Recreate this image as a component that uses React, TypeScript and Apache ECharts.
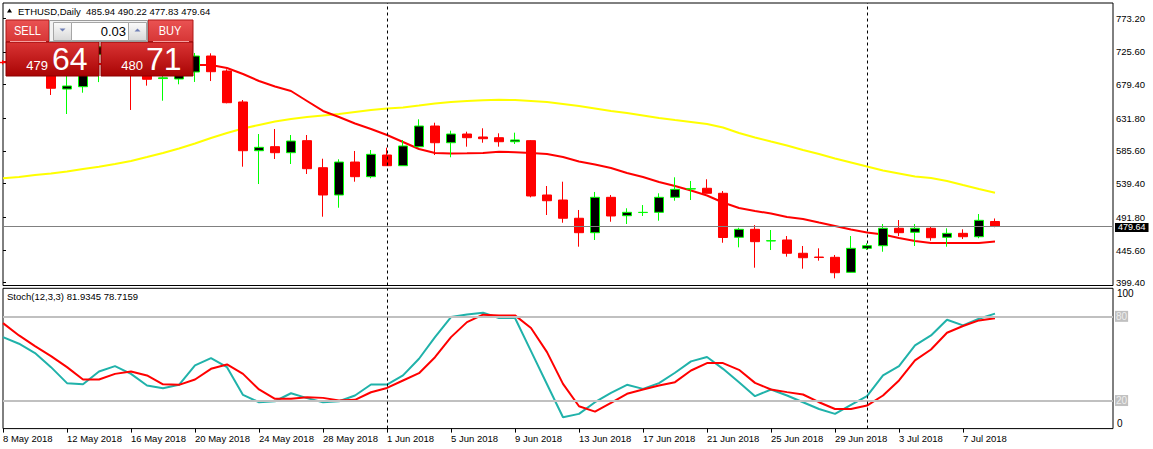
import React, { useEffect, useRef } from 'react';
import * as echarts from 'echarts';

const FONT = "'Liberation Sans', Arial, sans-serif";

const symbolTitle = 'ETHUSD,Daily';
const tickIndex = [0, 4, 8, 12, 16, 20, 24, 28, 32, 36, 40, 44, 48, 52, 56, 60];
const tickLabels = ['8 May 2018', '12 May 2018', '16 May 2018', '20 May 2018', '24 May 2018', '28 May 2018', '1 Jun 2018', '5 Jun 2018', '9 Jun 2018', '13 Jun 2018', '17 Jun 2018', '21 Jun 2018', '25 Jun 2018', '29 Jun 2018', '3 Jul 2018', '7 Jul 2018'];
const monthStarts = [24, 54];
const priceTicks = [399.4, 445.6, 491.8, 539.4, 585.6, 631.8, 679.4, 725.6, 773.2];
const stochLevels = [80, 20];

const opens = [711.0, 711.0, 748.0, 728.0, 673.2, 676.5, 722.0, 733.0, 712.0, 706.0, 688.0, 687.4, 697.3, 719.9, 698.7, 654.9, 586.0, 591.7, 583.2, 600.2, 562.0, 523.4, 570.0, 549.3, 579.9, 564.8, 591.7, 620.9, 597.3, 609.6, 605.4, 604.4, 598.7, 600.2, 523.4, 516.3, 490.5, 470.1, 520.1, 494.1, 498.6, 498.9, 520.1, 531.9, 532.9, 525.8, 463.6, 474.9, 458.4, 459.8, 441.0, 435.7, 435.3, 414.1, 448.0, 451.7, 476.3, 470.7, 476.3, 463.6, 469.2, 464.4, 485.94];
const highs = [714.0, 752.0, 752.0, 731.0, 700.0, 735.0, 745.0, 740.0, 716.0, 710.0, 698.0, 704.0, 724.2, 723.7, 701.1, 657.7, 609.6, 616.7, 608.2, 608.2, 574.7, 573.9, 585.6, 587.0, 590.3, 601.1, 630.4, 625.6, 614.3, 612.9, 617.7, 610.6, 611.5, 601.1, 536.1, 542.2, 502.2, 527.7, 523.4, 504.6, 509.2, 525.8, 548.4, 543.2, 545.6, 529.0, 477.1, 480.9, 473.9, 465.4, 451.3, 448.0, 438.6, 465.4, 455.1, 482.4, 488.0, 482.4, 479.5, 476.3, 474.9, 496.5, 490.22];
const lows = [708.0, 705.0, 722.0, 664.8, 637.9, 668.0, 683.0, 704.0, 643.6, 678.0, 656.7, 679.9, 683.2, 684.5, 653.0, 563.4, 538.9, 574.3, 567.2, 553.1, 492.7, 505.4, 542.2, 547.0, 564.4, 564.5, 591.3, 579.9, 576.7, 591.7, 597.3, 591.7, 595.5, 520.1, 495.1, 484.2, 450.3, 459.8, 485.6, 482.4, 493.7, 487.0, 515.3, 516.3, 525.5, 455.9, 449.4, 420.6, 445.6, 436.2, 419.2, 430.5, 405.6, 413.8, 445.6, 443.2, 465.4, 451.3, 458.8, 450.3, 461.2, 462.2, 477.83];
const closes = [710.4, 748.0, 728.0, 674.3, 677.5, 725.0, 733.0, 708.0, 706.0, 687.0, 689.0, 697.0, 719.9, 697.7, 653.9, 586.0, 590.8, 583.2, 599.7, 560.6, 523.4, 570.0, 549.3, 580.9, 564.8, 592.7, 620.9, 597.3, 609.6, 604.4, 603.0, 598.7, 601.2, 522.0, 515.3, 490.5, 470.1, 520.1, 493.7, 498.9, 498.9, 520.1, 531.4, 532.3, 525.8, 463.3, 474.9, 457.4, 458.8, 441.0, 434.7, 435.0, 413.5, 448.0, 451.7, 476.3, 470.1, 476.3, 463.0, 469.2, 464.4, 487.6, 479.64];

const maFast = [711.4, 711.4, 710.7, 710.0, 710.0, 709.3, 708.6, 708.6, 707.9, 707.9, 707.2, 707.2, 707.2, 707.2, 703.0, 694.5, 684.6, 676.8, 670.4, 656.3, 642.2, 633.7, 624.5, 616.7, 608.2, 598.3, 588.4, 582.8, 582.1, 582.3, 582.8, 584.6, 583.9, 582.8, 581.4, 577.1, 570.8, 566.5, 561.6, 554.5, 548.8, 541.8, 536.1, 529.8, 522.7, 512.8, 505.0, 500.8, 497.2, 492.3, 489.5, 484.5, 479.6, 474.5, 470.4, 467.5, 462.6, 458.4, 455.5, 455.5, 455.5, 455.5, 457.6];
const maSlow = [547.0, 548.8, 551.7, 553.8, 556.6, 560.2, 563.4, 567.2, 571.5, 577.1, 582.8, 589.2, 596.2, 604.0, 611.1, 617.4, 622.4, 627.3, 630.9, 633.7, 635.8, 637.9, 640.8, 643.6, 645.7, 647.1, 649.9, 652.8, 654.9, 656.3, 657.3, 658.1, 657.7, 656.3, 654.9, 652.1, 649.2, 645.7, 642.2, 639.3, 635.8, 632.3, 629.4, 626.6, 623.8, 618.8, 611.1, 604.7, 599.0, 593.4, 587.0, 581.4, 575.0, 569.4, 563.7, 558.0, 553.8, 549.6, 547.4, 543.2, 537.5, 531.9, 526.7];

const stochMain = [65.2, 60.5, 53.8, 43.8, 32.4, 31.6, 40.7, 44.5, 39.0, 30.7, 28.8, 31.2, 45.0, 50.2, 43.8, 24.0, 18.8, 19.5, 25.2, 21.7, 18.8, 19.5, 23.6, 31.4, 31.4, 37.9, 49.8, 65.2, 79.5, 81.4, 82.6, 78.8, 78.8, 55.2, 31.6, 8.1, 10.5, 18.8, 25.5, 31.2, 28.3, 32.4, 39.8, 47.9, 51.0, 42.6, 33.1, 23.1, 27.9, 23.6, 18.8, 14.0, 10.5, 16.9, 23.1, 37.9, 44.5, 59.3, 66.4, 77.6, 73.6, 78.3, 81.9345];
const stochSignal = [75.2, 66.4, 58.8, 51.7, 43.8, 35.0, 35.0, 39.0, 40.7, 37.9, 31.6, 31.2, 35.0, 42.6, 45.7, 39.0, 27.9, 21.2, 21.2, 22.4, 21.9, 20.0, 20.5, 25.9, 29.0, 34.3, 39.5, 50.9, 65.2, 75.9, 81.2, 80.7, 80.7, 71.7, 54.5, 31.9, 15.9, 12.1, 18.3, 24.8, 27.9, 30.7, 33.1, 41.4, 46.7, 46.7, 41.9, 32.6, 27.9, 26.0, 24.3, 18.8, 14.0, 14.0, 16.4, 23.6, 34.3, 48.6, 56.4, 68.3, 73.1, 77.1, 78.7159];

const lotSize = '0.03';
const bidPrice = ['479', '64'];
const askPrice = ['480', '71'];

const X_MAX = 69.375;

function grad(c1: string, c2: string) {
  return { type: 'linear', x: 0, y: 0, x2: 0, y2: 1, colorStops: [{ offset: 0, color: c1 }, { offset: 1, color: c2 }] };
}

function buildOption() {
  const last = closes.length - 1;
  const candleData = opens.map((o, i) => [i, o, closes[i], lows[i], highs[i]]);
  const header = `${symbolTitle}  ${opens[last].toFixed(2)} ${highs[last].toFixed(2)} ${lows[last].toFixed(2)} ${closes[last].toFixed(2)}`;
  const stochHeader = `Stoch(12,3,3) ${stochMain[last].toFixed(4)} ${stochSignal[last].toFixed(4)}`;
  const Z = 100;
  const txt = (text: string, x: number, y: number, size: number, align: string, fill = '#fff', scaleX = 1) => ({
    type: 'text', x, y, z: Z + 2, scaleX,
    style: { text, fill, fontSize: size, fontFamily: FONT, align, verticalAlign: 'middle' },
  });
  const graphics: any[] = [
    { type: 'polygon', z: Z, shape: { points: [[7, 12.5], [12, 12.5], [9.5, 8.5]] }, style: { fill: '#000' } },
    { type: 'text', x: 18, y: 11, z: Z, style: { text: header, fill: '#000', fontSize: 9.5, fontFamily: FONT, align: 'left', verticalAlign: 'middle' } },
    { type: 'text', x: 7, y: 296.5, z: Z, style: { text: stochHeader, fill: '#000', fontSize: 9.5, fontFamily: FONT, align: 'left', verticalAlign: 'middle' } },
    { type: 'rect', z: Z, shape: { x: 6, y: 20, width: 43, height: 22 }, style: { fill: grad('#ea5353', '#d63535'), stroke: '#b01818', lineWidth: 1 } },
    { type: 'rect', z: Z, shape: { x: 148, y: 20, width: 45, height: 22 }, style: { fill: grad('#ea5353', '#d63535'), stroke: '#b01818', lineWidth: 1 } },
    { type: 'rect', z: Z, shape: { x: 6, y: 42, width: 93, height: 34 }, style: { fill: grad('#da3434', '#a90404'), stroke: '#8e0000', lineWidth: 1 } },
    { type: 'rect', z: Z, shape: { x: 101, y: 42, width: 92, height: 34 }, style: { fill: grad('#da3434', '#a90404'), stroke: '#8e0000', lineWidth: 1 } },
    { type: 'line', z: Z + 1, shape: { x1: 10, y1: 41.5, x2: 46, y2: 41.5 }, style: { stroke: '#f4a0a0', lineWidth: 1 } },
    { type: 'line', z: Z + 1, shape: { x1: 153, y1: 41.5, x2: 189, y2: 41.5 }, style: { stroke: '#f4a0a0', lineWidth: 1 } },
    { type: 'rect', z: Z, shape: { x: 49.5, y: 20.5, width: 98, height: 21 }, style: { fill: '#f2f2f2', stroke: '#9c9c9c', lineWidth: 1 } },
    { type: 'rect', z: Z + 1, shape: { x: 53.5, y: 22.5, width: 18, height: 18 }, style: { fill: grad('#fbfbfb', '#d8d8d8'), stroke: '#a6a6a6', lineWidth: 1 } },
    { type: 'rect', z: Z + 1, shape: { x: 71.5, y: 22.5, width: 57, height: 18 }, style: { fill: '#ffffff', stroke: '#a6a6a6', lineWidth: 1 } },
    { type: 'rect', z: Z + 1, shape: { x: 128.5, y: 22.5, width: 18, height: 18 }, style: { fill: grad('#fbfbfb', '#d8d8d8'), stroke: '#a6a6a6', lineWidth: 1 } },
    { type: 'polygon', z: Z + 2, shape: { points: [[59.5, 28.5], [65.5, 28.5], [62.5, 31.5]] }, style: { fill: '#6f7fb5' } },
    { type: 'polygon', z: Z + 2, shape: { points: [[134.5, 31.5], [140.5, 31.5], [137.5, 28.5]] }, style: { fill: '#6f7fb5' } },
    txt(lotSize, 126, 31, 13, 'right', '#000'),
    txt('SELL', 27.5, 31, 13, 'center', '#fff', 0.85),
    txt('BUY', 170, 31, 13, 'center', '#fff', 0.85),
    txt(bidPrice[0], 48, 65, 13, 'right'),
    txt(bidPrice[1], 52, 59, 32, 'left'),
    txt(askPrice[0], 143, 65, 13, 'right'),
    txt(askPrice[1], 146, 59, 32, 'left'),
  ];

  const vLines = monthStarts.map((m) => ({ xAxis: m }));

  return {
    animation: false,
    backgroundColor: '#ffffff',
    textStyle: { fontFamily: FONT },
    grid: [
      { left: 3, top: 3, width: 1110, height: 282.5, show: true, borderColor: '#000', borderWidth: 1, backgroundColor: 'transparent' },
      { left: 3, top: 288.3, width: 1110, height: 140.3, show: true, borderColor: '#000', borderWidth: 1, backgroundColor: 'transparent' },
    ],
    xAxis: [
      { type: 'value', gridIndex: 0, min: 0, max: X_MAX, show: false },
      {
        type: 'value', gridIndex: 1, min: 0, max: X_MAX, position: 'bottom',
        axisLine: { show: false }, splitLine: { show: false },
        axisTick: { show: true, customValues: tickIndex, length: 4, lineStyle: { color: '#000' } },
        axisLabel: {
          show: true, customValues: tickIndex, align: 'left', margin: 5, fontSize: 9.5, color: '#000', fontFamily: FONT,
          formatter: (v: number) => { const k = tickIndex.indexOf(Math.round(v)); return k >= 0 ? tickLabels[k] : ''; },
        },
      },
    ],
    yAxis: [
      {
        type: 'value', gridIndex: 0, position: 'right', min: 395.44, max: 794.84, scale: true,
        splitLine: { show: false }, axisLine: { show: false },
        axisTick: { show: true, customValues: priceTicks, length: 3, lineStyle: { color: '#000' } },
        axisLabel: { show: true, customValues: priceTicks, margin: 3, fontSize: 9.5, lineHeight: 9, color: '#000', fontFamily: FONT, formatter: (v: number) => v.toFixed(2) },
      },
      {
        type: 'value', gridIndex: 1, position: 'right', min: 0, max: 100,
        splitLine: { show: false }, axisLine: { show: false }, axisTick: { show: false },
        axisLabel: { show: true, customValues: [100], margin: 4, fontSize: 10, color: '#000', verticalAlign: 'top', fontFamily: FONT },
      },
      {
        type: 'value', gridIndex: 1, position: 'right', min: 0, max: 100,
        splitLine: { show: false }, axisLine: { show: false }, axisTick: { show: false },
        axisLabel: { show: true, customValues: [0], margin: 4, fontSize: 10, color: '#000', verticalAlign: 'bottom', fontFamily: FONT },
      },
    ],
    series: [
      {
        type: 'line', name: 'MA slow', xAxisIndex: 0, yAxisIndex: 0, z: 1,
        data: maSlow.map((v, i) => [i, v]), symbol: 'none', showSymbol: false,
        lineStyle: { color: '#ffff00', width: 2 },
        markLine: {
          silent: true, symbol: ['none', 'none'], animation: false,
          data: [
            ...vLines.map((d) => ({ ...d, lineStyle: { color: '#000', width: 1, type: [3, 3] }, label: { show: false } })),
            {
              yAxis: closes[last], lineStyle: { color: '#808080', width: 1, type: 'solid' },
              label: { show: true, position: 'end', distance: 2, offset: [0, 1.5], formatter: () => closes[last].toFixed(2), backgroundColor: '#000', color: '#fff', padding: [0, 3, 0, 3], fontSize: 9, lineHeight: 9, fontFamily: FONT },
            },
          ],
        },
      },
      {
        type: 'line', name: 'MA fast', xAxisIndex: 0, yAxisIndex: 0, z: 1,
        data: maFast.map((v, i) => [i, v]), symbol: 'none', showSymbol: false,
        lineStyle: { color: '#ff0000', width: 2 },
      },
      {
        type: 'candlestick', name: symbolTitle, xAxisIndex: 0, yAxisIndex: 0, z: 3,
        data: candleData, encode: { x: 0, y: [1, 2, 3, 4] }, barWidth: 9, clip: true,
        itemStyle: { color: '#000000', color0: '#ff0000', borderColor: '#00ff00', borderColor0: '#ff0000', borderWidth: 1 },
      },
      {
        type: 'line', name: 'Stoch main', xAxisIndex: 1, yAxisIndex: 1, z: 2,
        data: stochMain.map((v, i) => [i, v]), symbol: 'none', showSymbol: false,
        lineStyle: { color: '#20b2aa', width: 2 },
        markLine: {
          silent: true, symbol: ['none', 'none'], animation: false,
          data: [
            ...stochLevels.map((lv) => ({
              yAxis: lv, lineStyle: { color: '#c0c0c0', width: 2, type: 'solid' },
              label: { show: true, position: 'end', distance: 2, formatter: String(lv), backgroundColor: '#c0c0c0', color: '#eeeeee', padding: [1, 1, 0, 1], fontSize: 10, fontFamily: FONT },
            })),
            ...vLines.map((d) => ({ ...d, lineStyle: { color: '#000', width: 1, type: [3, 3] }, label: { show: false } })),
          ],
        },
      },
      {
        type: 'line', name: 'Stoch signal', xAxisIndex: 1, yAxisIndex: 1, z: 2,
        data: stochSignal.map((v, i) => [i, v]), symbol: 'none', showSymbol: false,
        lineStyle: { color: '#ff0000', width: 2 },
      },
    ],
    graphic: { elements: graphics },
  };
}

export default function App() {
  const ref = useRef<HTMLDivElement>(null);
  useEffect(() => {
    if (!ref.current) return;
    const chart = echarts.init(ref.current, undefined, { renderer: 'svg' });
    chart.setOption(buildOption() as any);
    return () => chart.dispose();
  }, []);
  return <div ref={ref} style={{ position: 'absolute', left: 0, top: 0, width: 1153, height: 449, background: '#fff' }} />;
}
